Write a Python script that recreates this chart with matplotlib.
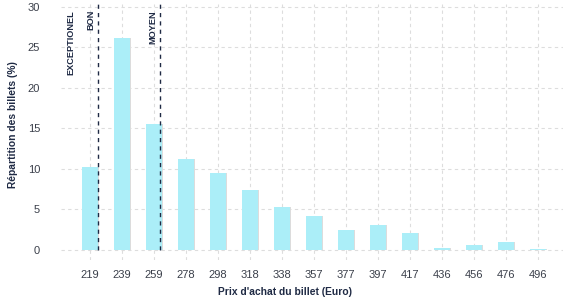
import matplotlib
matplotlib.use("Agg")
import matplotlib.pyplot as plt
import numpy as np

plt.rcParams['font.family'] = ['Liberation Sans', 'DejaVu Sans']

# Data
prix = ["219", "239", "259", "278", "298", "318", "338", "357", "377",
        "397", "417", "436", "456", "476", "496"]
repartition = [10.25, 26.2, 15.5, 11.2, 9.5, 7.4, 5.3, 4.2, 2.5,
               3.1, 2.1, 0.25, 0.6, 1.0, 0.1]

# seuils (position in category units) and their labels
seuils = [0.26, 2.19]
seuil_labels = ["BON", "MOYEN"]
label_exc = "EXCEPTIONEL"

BAR = "#abeef8"
SHADOW = "#dcdcdc"
NAVY = "#1f2a44"
TXT = "#3a3f4a"

fig = plt.figure(figsize=(5.77, 3.0), dpi=100)
ax = fig.add_axes([0.1057, 0.1333, 0.8703, 0.852])

x = np.arange(len(prix))
ax.bar(x + 0.04, repartition, width=0.5, color=SHADOW, zorder=2)
ax.bar(x, repartition, width=0.5, color=BAR, zorder=3)

for s in seuils:
    ax.plot([s, s], [0, 30.3], color=NAVY, lw=1.0, ls=(0, (3, 3)), zorder=4)

ax.text(seuils[0] - 0.08, 29.6, seuil_labels[0], rotation=90, ha="right", va="top",
        fontsize=6.6, fontweight="bold", color=NAVY)
ax.text(seuils[1] - 0.08, 29.6, seuil_labels[1], rotation=90, ha="right", va="top",
        fontsize=6.6, fontweight="bold", color=NAVY)
ax.text(-0.44, 29.6, label_exc, rotation=90, ha="right", va="top",
        fontsize=6.6, fontweight="bold", color=NAVY)

ax.set_xlim(-0.9, len(prix) - 1 + 0.78)
ax.set_ylim(-1.25, 30.3)
ax.set_xticks(x)
ax.set_xticklabels(prix)
ax.set_yticks([0, 5, 10, 15, 20, 25, 30])

ax.grid(True, color="#dddddd", ls=(0, (3, 3)), lw=0.8, zorder=0)
ax.set_axisbelow(True)
for sp in ax.spines.values():
    sp.set_visible(False)
ax.tick_params(axis="both", length=0, labelsize=8, colors=TXT)
ax.tick_params(axis="x", pad=7)
ax.tick_params(axis="y", pad=15)

ax.set_xlabel("Prix d'achat du billet (Euro)", fontsize=7.4, fontweight="bold",
              color=NAVY, labelpad=5)
ax.set_ylabel("Répartition des billets (%)", fontsize=7.4, fontweight="bold",
              color=NAVY, labelpad=7)
# labels are not centred on the plot area in the original
ax.xaxis.label.set_x(0.446)
ax.yaxis.label.set_y(0.528)

fig.savefig("out.png", dpi=100)
